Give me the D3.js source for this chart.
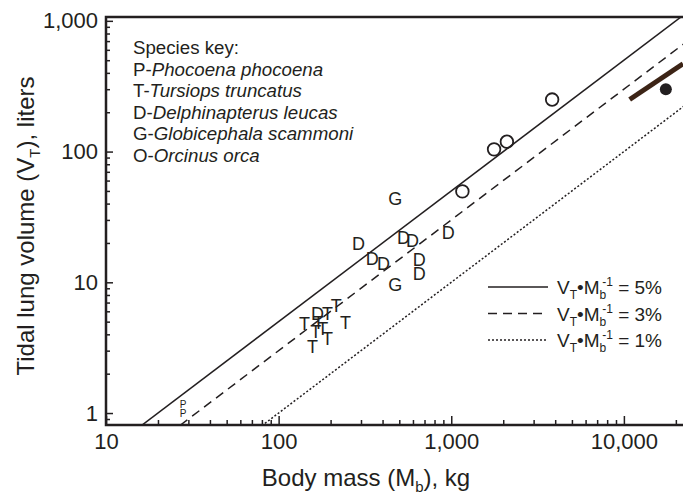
<!DOCTYPE html>
<meta charset="utf-8">
<style>
body { margin: 0; background: #fff; }
svg { font-family: Arial, "Liberation Sans", sans-serif; }
.frame { stroke: #231f20; stroke-width: 2.5; fill: none; }
.axis path { display: none; }
.axis line { stroke: #231f20; stroke-width: 1.5; }
.axis text { font-size: 22px; fill: #231f20; font-family: Arial, "Liberation Sans", sans-serif; }
.letter { fill: #231f20; }
</style>
<body>
<script src="https://cdn.jsdelivr.net/npm/d3@7"></script>
<script>

var width = 683,
    height = 496;

// tick values
var xMajor = [10, 100, 1000, 10000];
var xLabels = ["10", "100", "1,000", "10,000"];
var yMajor = [1, 10, 100, 1000];
var yLabels = ["1", "10", "100", "1,000"];

// species data (body mass kg, tidal volume liters)
var pMass = [28, 28];
var pVol = [1.17, 1.0];
var tMass = [141, 192, 216, 244, 164, 180, 170, 192, 157];
var tVol = [4.8, 5.7, 6.6, 4.9, 4.2, 4.4, 4.9, 3.7, 3.2];
var dMass = [168, 290, 349, 405, 528, 596, 653, 653, 961];
var dVol = [5.7, 19.5, 15.2, 13.7, 21.7, 20.6, 14.7, 11.5, 24];
var gMass = [474, 474];
var gVol = [43, 9.5];
var oMass = [1160, 1770, 2100, 3840];
var oVol = [49.6, 104, 119, 250];

// large whale
var dotMass = [17500];
var dotVol = [300];
var barMass = [10800, 22000];
var barVol = [250, 470];

// ratio lines VT/Mb
var ratios = [0.05, 0.03, 0.01];
var ratioLabels = ["5%", "3%", "1%"];
var ratioDash = [null, "9,6", "2,2"];

var x = d3.scaleLog().domain([10, 22000]).range([106, 683]);
var y = d3.scaleLog().domain([0.81, 1070]).range([425, 17]);

var svg = d3.select("body").append("svg")
    .attr("width", width)
    .attr("height", height);

svg.append("defs").append("clipPath").attr("id", "plot")
    .append("rect")
    .attr("x", x.range()[0]).attr("y", y.range()[1])
    .attr("width", x.range()[1] - x.range()[0])
    .attr("height", y.range()[0] - y.range()[1]);

// minor ticks
var xMinor = [];
[10, 100, 1000, 10000].forEach(function(d) {
  for (var i = 2; i < 10; i++) if (d * i <= 22000) xMinor.push(d * i);
});
var yMinor = [];
[0.1, 1, 10, 100].forEach(function(d) {
  for (var i = 2; i < 10; i++) if (d * i >= 0.81 && d * i <= 1000) yMinor.push(d * i);
});

svg.append("g").attr("class", "axis")
    .attr("transform", "translate(0," + y.range()[0] + ")")
    .call(d3.axisBottom(x).tickValues(xMinor).tickSize(-5).tickFormat(""));
svg.append("g").attr("class", "axis")
    .attr("transform", "translate(0," + y.range()[0] + ")")
    .call(d3.axisBottom(x).tickValues(xMajor).tickSize(-9).tickPadding(8)
      .tickFormat(function(d, i) { return xLabels[i]; }));

svg.append("g").attr("class", "axis")
    .attr("transform", "translate(" + x.range()[0] + ",0)")
    .call(d3.axisLeft(y).tickValues(yMinor).tickSize(-4).tickFormat(""));
svg.append("g").attr("class", "axis")
    .attr("transform", "translate(" + x.range()[0] + ",0)")
    .call(d3.axisLeft(y).tickValues(yMajor).tickSize(-7).tickPadding(8)
      .tickFormat(function(d, i) { return yLabels[i]; }));

// frame: left, bottom, top
svg.append("path").attr("class", "frame")
    .attr("d", "M" + x.range()[1] + "," + y.range()[1] +
      "H" + x.range()[0] + "V" + y.range()[0] + "H" + x.range()[1]);

var plot = svg.append("g").attr("clip-path", "url(#plot)");

// ratio lines
plot.selectAll(".ratio")
    .data(ratios)
    .enter().append("line")
    .attr("x1", function(d) { return x(0.5 / d); })
    .attr("y1", y(0.5))
    .attr("x2", function(d) { return x(2000 / d); })
    .attr("y2", y(2000))
    .attr("stroke", "#231f20")
    .attr("stroke-width", 1.5)
    .attr("stroke-dasharray", function(d, i) { return ratioDash[i]; });

// large whale bar and dot
plot.append("line")
    .attr("x1", x(barMass[0])).attr("y1", y(barVol[0]))
    .attr("x2", x(barMass[1])).attr("y2", y(barVol[1]))
    .attr("stroke", "#3c2416").attr("stroke-width", 5);
plot.selectAll(".dot")
    .data(dotMass)
    .enter().append("circle")
    .attr("cx", function(d) { return x(d); })
    .attr("cy", function(d, i) { return y(dotVol[i]); })
    .attr("r", 6)
    .attr("fill", "#231f20");

// orca circles
plot.selectAll(".orca")
    .data(oMass)
    .enter().append("circle")
    .attr("cx", function(d) { return x(d); })
    .attr("cy", function(d, i) { return y(oVol[i]); })
    .attr("r", 6.3)
    .attr("fill", "none")
    .attr("stroke", "#231f20")
    .attr("stroke-width", 1.8);

// letter markers
function letters(mass, vol, ch, size) {
  plot.append("g").selectAll("text")
    .data(mass)
    .enter().append("text")
    .attr("class", "letter")
    .attr("x", function(d) { return x(d); })
    .attr("y", function(d, i) { return y(vol[i]); })
    .attr("text-anchor", "middle")
    .attr("dominant-baseline", "central")
    .style("font-size", size + "px")
    .text(ch);
}
letters(tMass, tVol, "T", 18);
letters(dMass, dVol, "D", 18);
letters(gMass, gVol, "G", 18);
letters(pMass, pVol, "P", 10);

// species key
var keyCodes = ["P-", "T-", "D-", "G-", "O-"];
var keyNames = ["Phocoena phocoena", "Tursiops truncatus", "Delphinapterus leucas",
  "Globicephala scammoni", "Orcinus orca"];
var key = svg.append("g").style("font-size", "18.7px").attr("fill", "#231f20");
key.append("text").attr("x", 133).attr("y", 54).text("Species key:");
keyCodes.forEach(function(c, i) {
  var t = key.append("text").attr("x", 133).attr("y", 75.5 + i * 21.6);
  t.append("tspan").text(c);
  t.append("tspan").style("font-style", "italic").text(keyNames[i]);
});

// ratio legend
var leg = svg.append("g").attr("fill", "#231f20");
ratios.forEach(function(r, i) {
  var yy = 287 + i * 26.5;
  leg.append("line")
    .attr("x1", 488).attr("x2", 548).attr("y1", yy).attr("y2", yy)
    .attr("stroke", "#231f20").attr("stroke-width", 1.4)
    .attr("stroke-dasharray", ratioDash[i]);
  var t = leg.append("text").attr("x", 557).attr("y", yy + 7).style("font-size", "19px");
  t.append("tspan").text("V");
  t.append("tspan").attr("dy", 5).style("font-size", "12px").text("T");
  t.append("tspan").attr("dy", -5).text("•M");
  t.append("tspan").attr("dy", 5).style("font-size", "12px").text("b");
  t.append("tspan").attr("dy", -13).attr("dx", -4).style("font-size", "12px").text("-1");
  t.append("tspan").attr("dy", 8).text(" = " + ratioLabels[i]);
});

// axis titles
var xt = svg.append("text")
    .attr("x", 366).attr("y", 486)
    .attr("text-anchor", "middle")
    .style("font-size", "24px").attr("fill", "#231f20");
xt.append("tspan").text("Body mass (M");
xt.append("tspan").attr("dy", 6).style("font-size", "15px").text("b");
xt.append("tspan").attr("dy", -6).text("), kg");

var yt = svg.append("text")
    .attr("transform", "translate(34,226) rotate(-90)")
    .attr("text-anchor", "middle")
    .style("font-size", "24px").attr("fill", "#231f20");
yt.append("tspan").text("Tidal lung volume (V");
yt.append("tspan").attr("dy", 6).style("font-size", "15px").text("T");
yt.append("tspan").attr("dy", -6).text("), liters");

</script>
